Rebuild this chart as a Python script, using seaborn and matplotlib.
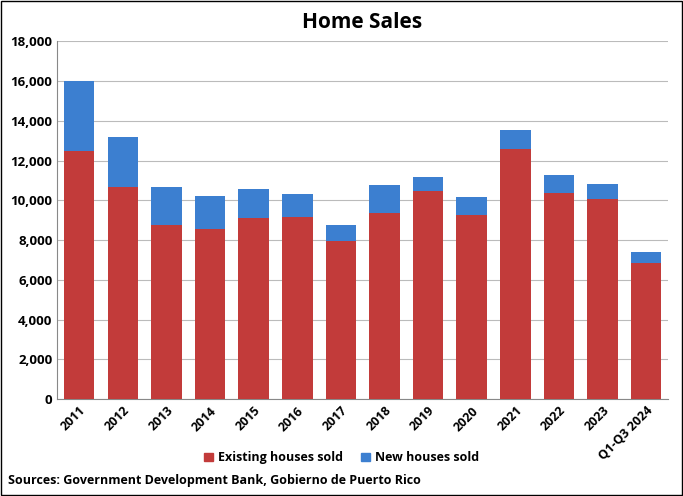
import matplotlib
matplotlib.use("Agg")
import matplotlib.pyplot as plt
import seaborn as sns
import pandas as pd
from matplotlib.patches import Patch

years = ["2011","2012","2013","2014","2015","2016","2017","2018","2019","2020","2021","2022","2023","Q1-Q3 2024"]
existing = [12500,10650,8750,8550,9100,9150,7950,9350,10450,9250,12600,10350,10050,6850]
new = [3500,2550,1900,1650,1450,1150,800,1400,700,900,950,900,750,550]

plt.rcParams["font.family"] = "Open Sans"
df = pd.DataFrame({"year": years, "existing": existing,
                   "total": [e + n for e, n in zip(existing, new)]})

fig = plt.figure(figsize=(6.83, 4.96), dpi=100)
ax = fig.add_axes([0.084, 0.195, 0.894, 0.722])
red, blue = "#C23B3A", "#3C7FD0"
sns.barplot(data=df, x="year", y="total", color=blue, saturation=1, width=0.7, ax=ax, zorder=2)
sns.barplot(data=df, x="year", y="existing", color=red, saturation=1, width=0.7, ax=ax, zorder=3)
ax.set_ylim(0, 18000)
ax.set_yticks(range(0, 18001, 2000))
ax.set_yticklabels([f"{v:,}" for v in range(0, 18001, 2000)], fontsize=9.5, fontweight="bold")
ax.set_xticks(range(len(years)))
ax.set_xticklabels(years, rotation=45, ha="right", rotation_mode="anchor", fontsize=9, fontweight="bold")
ax.set_xlabel(""); ax.set_ylabel("")
ax.grid(axis="y", color="#BBBBBB", lw=0.8, zorder=0)
for s in ["top", "right"]:
    ax.spines[s].set_visible(False)
for s in ["left", "bottom"]:
    ax.spines[s].set_color("#888888")
ax.tick_params(length=0)
fig.text(0.53, 0.955, "Home Sales", ha="center", va="center", fontsize=15, fontweight="bold")
fig.legend(handles=[Patch(color=red, label="Existing houses sold"), Patch(color=blue, label="New houses sold")],
           loc="center", bbox_to_anchor=(0.5, 0.077), ncol=2, frameon=False,
           prop={"size": 9, "weight": "bold"},
           handlelength=0.7, handleheight=0.7, columnspacing=1.5, handletextpad=0.4)
fig.text(0.012, 0.025, "Sources: Government Development Bank, Gobierno de Puerto Rico", fontsize=9, fontweight="bold")
fig.patches.append(plt.Rectangle((0.002, 0.002), 0.996, 0.996, transform=fig.transFigure, fill=False, ec="black", lw=1))
fig.savefig("out.png", dpi=100)
